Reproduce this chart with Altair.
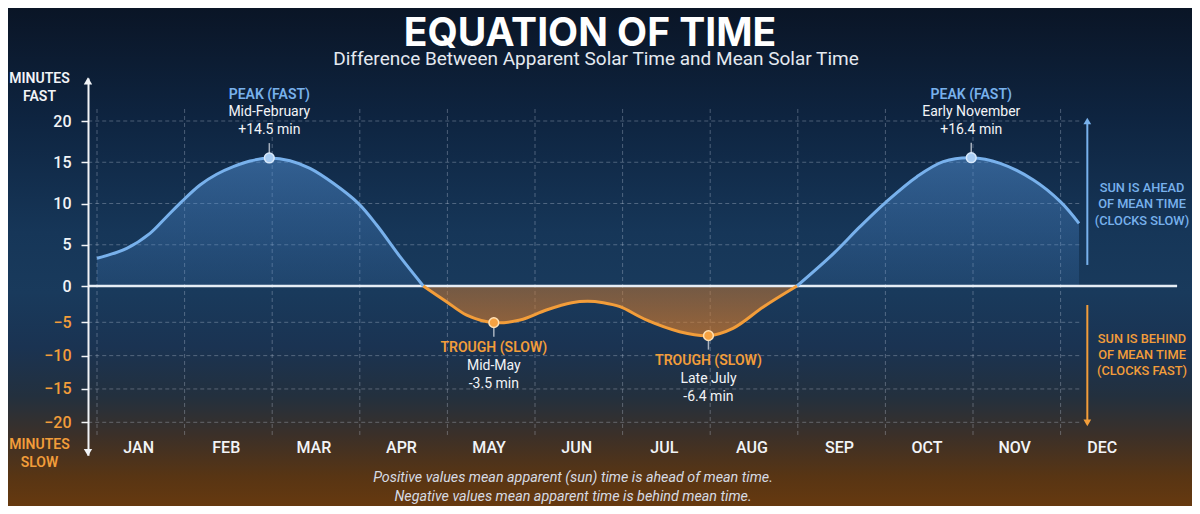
import altair as alt
import pandas as pd

# ---------------- data ----------------
MONTHS = ["JAN", "FEB", "MAR", "APR", "MAY", "JUN", "JUL", "AUG", "SEP", "OCT", "NOV", "DEC"]
Y_TICKS = [-20, -15, -10, -5, 0, 5, 10, 15, 20]
GRID_Y = [-20, -15, -10, -5, 5, 10, 15, 20]
GRID_X = list(range(12))          # month boundaries (months since 1 Jan)
LABEL_X = [m + 0.47 for m in range(12)]

# curve, x = months since 1 Jan, y = minutes
EARLY_X = [0.0, 0.34, 0.605, 0.795, 0.947, 1.176, 1.366, 1.556, 1.747, 1.967, 2.203, 2.432, 2.698, 2.983, 3.193, 3.459, 3.725]
EARLY_Y = [3.36, 4.57, 6.38, 8.4, 10.02, 12.24, 13.54, 14.46, 15.15, 15.52, 15.19, 14.26, 12.45, 10.02, 7.39, 3.55, 0.0]
MID_X = [3.725, 3.99, 4.22, 4.53, 4.83, 5.13, 5.42, 5.6, 5.78, 5.97, 6.27, 6.65, 6.98, 7.26, 7.61, 7.99]
MID_Y = [0.0, -2.16, -4.0, -5.05, -4.68, -3.3, -2.3, -2.1, -2.3, -2.85, -4.68, -6.41, -7.0, -5.9, -2.85, 0.0]
LATE_X = [7.99, 8.41, 8.71, 9.01, 9.36, 9.66, 9.98, 10.31, 10.69, 11.0, 11.21]
LATE_Y = [0.0, 3.96, 7.19, 10.2, 13.25, 15.07, 15.55, 14.87, 12.85, 10.2, 7.6]

# annotated extremes
ANN_X = [1.967, 9.98, 4.53, 6.98]
ANN_Y = [15.52, 15.55, -5.05, -7.0]
ANN_KIND = ["peak", "peak", "trough", "trough"]
ANN_HEAD = ["PEAK (FAST)", "PEAK (FAST)", "TROUGH (SLOW)", "TROUGH (SLOW)"]
ANN_WHEN = ["Mid-February", "Early November", "Mid-May", "Late July"]
ANN_VAL = ["+14.5 min", "+16.4 min", "-3.5 min", "-6.4 min"]

# side arrows (x position in months, y in minutes)
SIDE_X = [11.305, 11.305]
SIDE_Y = [2.55, -2.62]
SIDE_Y2 = [20.0, -20.08]
SIDE_KIND = ["ahead", "behind"]

TITLE = "EQUATION OF TIME"
SUBTITLE = "Difference Between Apparent Solar Time and Mean Solar Time"
FOOT = ["Positive values mean apparent (sun) time is ahead of mean time.",
        "Negative values mean apparent time is behind mean time."]

# ---------------- style ----------------
W, H = 1184, 498
FONT = "Roboto"
BLUE = "#78b1ec"
ORANGE = "#f29d3a"
WHITE = "#f2f4f7"
GRIDC = "rgba(205,215,230,0.32)"
CURVE = "catmull-rom"

seg = pd.DataFrame(
    {"x": EARLY_X + MID_X + LATE_X,
     "y": EARLY_Y + MID_Y + LATE_Y,
     "seg": ["early"] * len(EARLY_X) + ["mid"] * len(MID_X) + ["late"] * len(LATE_X)})
ann = pd.DataFrame({"x": ANN_X, "y": ANN_Y, "kind": ANN_KIND, "head": ANN_HEAD,
                    "when": ANN_WHEN, "val": ANN_VAL})
side = pd.DataFrame({"x": SIDE_X, "y": SIDE_Y, "y2": SIDE_Y2, "kind": SIDE_KIND})
gy = pd.DataFrame({"y": GRID_Y})
gx = pd.DataFrame({"x": GRID_X})
one = pd.DataFrame({"k": [0]})

XS = alt.Scale(domain=[-1.016, 12.5], nice=False, zero=False)
YS = alt.Scale(domain=[-24.95, -20, -5, 0, 20, 25.2],
               range=[447.3, 414.3, 314.3, 278, 113, 70.1], nice=False, zero=False)

month_expr = "[" + ",".join("'%s'" % m for m in MONTHS) + "][floor(datum.value)]"
XAX = alt.Axis(values=LABEL_X, labelExpr=month_expr, orient="bottom", offset=-59,
               domain=False, ticks=False, tickSize=0, grid=False, labelPadding=0,
               labelBaseline="middle", labelColor=WHITE, labelFont=FONT,
               labelFontSize=16, labelFontWeight=500, zindex=1)
YAX = alt.Axis(values=Y_TICKS, orient="left", offset=-80, domainColor=WHITE,
               domainWidth=2, tickColor=WHITE, tickSize=7, tickWidth=1.5,
               labelPadding=10, grid=False, labelFont=FONT, labelFontSize=16,
               labelFontWeight=500,
               labelColor={"condition": {"test": "datum.value < 0", "value": ORANGE},
                           "value": WHITE},
               zindex=1)


def X(f):
    return alt.X(f, type="quantitative", scale=XS, axis=XAX, title=None)


def Y(f):
    return alt.Y(f, type="quantitative", scale=YS, axis=YAX, title=None)


def txt(text, x, y, size, color, weight="normal", style="normal", lh=None, font=FONT):
    kw = dict(text=text, font=font, fontSize=size, color=color, fontWeight=weight,
              fontStyle=style, align="center", baseline="alphabetic")
    if lh is not None:
        kw["lineHeight"] = lh
    return alt.Chart(one).mark_text(**kw).encode(x=alt.value(x), y=alt.value(y))


bg_grad = alt.LinearGradient(
    gradient="linear", x1=0, x2=0, y1=0, y2=1,
    stops=[alt.GradientStop(color="#0a1526", offset=0),
           alt.GradientStop(color="#0e2440", offset=0.22),
           alt.GradientStop(color="#163658", offset=0.45),
           alt.GradientStop(color="#193a5c", offset=0.57),
           alt.GradientStop(color="#1a3352", offset=0.68),
           alt.GradientStop(color="#23303e", offset=0.78),
           alt.GradientStop(color="#3c3028", offset=0.86),
           alt.GradientStop(color="#583514", offset=0.94),
           alt.GradientStop(color="#66390f", offset=1)])
background = alt.Chart(one).mark_rect(color=bg_grad).encode(
    x=alt.value(0), x2=alt.value(W), y=alt.value(0), y2=alt.value(H))

hgrid = alt.Chart(gy).transform_calculate(x0="-0.1", x1="11.22").mark_rule(
    color=GRIDC, strokeDash=[4, 3], strokeWidth=1).encode(
    x=X("x0"), x2="x1", y=Y("y"))
vgrid = alt.Chart(gx).transform_calculate(y0="-21.9", y1="21.5").mark_rule(
    color=GRIDC, strokeDash=[4, 3], strokeWidth=1).encode(
    x=X("x"), y=Y("y0"), y2="y1")

blue_grad = alt.LinearGradient(
    gradient="linear", x1=0, x2=0, y1=0, y2=1,
    stops=[alt.GradientStop(color="rgba(85,150,220,0.50)", offset=0),
           alt.GradientStop(color="rgba(70,130,200,0.16)", offset=1)])
orange_grad = alt.LinearGradient(
    gradient="linear", x1=0, x2=0, y1=0, y2=1,
    stops=[alt.GradientStop(color="rgba(205,120,45,0.50)", offset=0),
           alt.GradientStop(color="rgba(230,130,40,0.62)", offset=1)])

pos = alt.Chart(seg).transform_filter("datum.seg != 'mid'").transform_calculate(zero="0")
neg = alt.Chart(seg).transform_filter("datum.seg == 'mid'").transform_calculate(zero="0")

blue_area = pos.mark_area(interpolate=CURVE, color=blue_grad).encode(
    x=X("x"), y=Y("y"), y2="zero:Q", detail="seg:N")
orange_area = neg.mark_area(interpolate=CURVE, color=orange_grad).encode(
    x=X("x"), y=Y("y"), y2="zero:Q", detail="seg:N")
blue_line = pos.mark_line(interpolate=CURVE, color=BLUE, strokeWidth=3).encode(
    x=X("x"), y=Y("y"), detail="seg:N")
orange_line = neg.mark_line(interpolate=CURVE, color=ORANGE, strokeWidth=3).encode(
    x=X("x"), y=Y("y"), detail="seg:N")

zero_line = alt.Chart(one).transform_calculate(x0="-0.1", x1="12.33", y0="0").mark_rule(
    color="#e6edf5", strokeWidth=2.5).encode(x=X("x0"), x2="x1", y=Y("y0"))

axis_arrows = alt.Chart(pd.DataFrame({"y": [24.86, -24.53], "shape": ["triangle-up", "triangle-down"]})
                        ).transform_calculate(x0="-0.103").mark_point(
    filled=True, size=70, color=WHITE, opacity=1).encode(
    x=X("x0"), y=Y("y"), shape=alt.Shape("shape:N", scale=None))

stems = alt.Chart(ann).transform_calculate(
    ys="datum.kind == 'peak' ? datum.y + 1.8 : datum.y - 2.1").mark_rule(
    color="rgba(215,220,228,0.75)", strokeWidth=1.5).encode(
    x=X("x"), y=Y("y"), y2="ys:Q")

peaks = alt.Chart(ann).transform_filter("datum.kind == 'peak'")
troughs = alt.Chart(ann).transform_filter("datum.kind == 'trough'")

peak_dots = peaks.mark_point(filled=True, size=95, shape="circle", color="#a9cdf3",
                             stroke="#d8e9fb", strokeWidth=1.5, opacity=1).encode(
    x=X("x"), y=Y("y"))
trough_dots = troughs.mark_point(filled=True, size=95, shape="circle", color="#f5a242",
                                 stroke="#ffe0b3", strokeWidth=1.5, opacity=1).encode(
    x=X("x"), y=Y("y"))


def ann_text(base, field, dy, color, weight):
    return base.mark_text(font=FONT, fontSize=14, color=color, fontWeight=weight,
                          align="center", baseline="alphabetic", dy=dy).encode(
        x=X("x"), y=Y("y"), text=field + ":N")


ann_layers = [
    ann_text(peaks, "head", -59, BLUE, 600),
    ann_text(peaks, "when", -42, WHITE, "normal"),
    ann_text(peaks, "val", -24, WHITE, "normal"),
    ann_text(troughs, "head", 29, ORANGE, 600),
    ann_text(troughs, "when", 47, WHITE, "normal"),
    ann_text(troughs, "val", 65, WHITE, "normal"),
]

side_rules = alt.Chart(side).mark_rule(strokeWidth=2).encode(
    x=X("x"), y=Y("y"), y2="y2:Q",
    color=alt.Color("kind:N", scale=alt.Scale(domain=["ahead", "behind"], range=[BLUE, ORANGE]),
                    legend=None))
side_heads = alt.Chart(side).mark_point(filled=True, size=60, opacity=1).encode(
    x=X("x"), y=Y("y2"),
    shape=alt.Shape("kind:N", scale=alt.Scale(domain=["ahead", "behind"],
                                              range=["triangle-up", "triangle-down"]),
                    legend=None),
    color=alt.Color("kind:N", scale=alt.Scale(domain=["ahead", "behind"], range=[BLUE, ORANGE]),
                    legend=None))

texts = [
    txt(TITLE, 582, 38, 39, "#ffffff", weight="bold", font="Inter"),
    txt(SUBTITLE, 588, 56.5, 19, "#e4e9f0"),
    txt(["MINUTES", "FAST"], 31.5, 74.7, 14, WHITE, weight=600, lh=18),
    txt(["MINUTES", "SLOW"], 31.5, 441, 14, ORANGE, weight=600, lh=18),
    txt(["SUN IS AHEAD", "OF MEAN TIME", "(CLOCKS SLOW)"], 1134, 183.7, 12.8, BLUE, weight=500, lh=16.6),
    txt(["SUN IS BEHIND", "OF MEAN TIME", "(CLOCKS FAST)"], 1134, 334.7, 12.8, ORANGE, weight=500, lh=16.4),
    txt(FOOT, 565, 474, 14.3, "#d6dbe3", style="italic", lh=18.5),
]

chart = alt.layer(
    background, hgrid, vgrid, blue_area, orange_area, zero_line, blue_line, orange_line,
    axis_arrows, side_rules, side_heads, stems, peak_dots, trough_dots,
    *ann_layers, *texts
).properties(
    width=W, height=H, padding=0, background="#0a1526",
    autosize=alt.AutoSizeParams(type="none")
).configure_view(strokeWidth=0)

chart.save("out.html", embed_options={"renderer": "svg", "actions": False})
